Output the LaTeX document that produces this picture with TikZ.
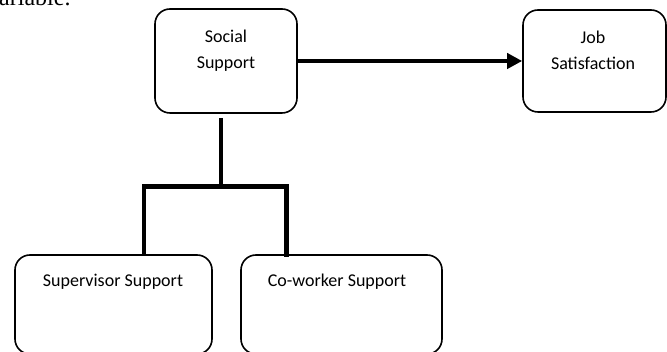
\documentclass[tikz,border=0pt]{standalone}
\usepackage{fontspec}
\setmainfont{Carlito}
\newfontfamily\serifpart{Liberation Serif}
\usetikzlibrary{arrows.meta}
\begin{document}
\begin{tikzpicture}[x=1pt,y=1pt,
  boxnode/.style={draw=black, line width=1.6pt, rounded corners=15pt, inner sep=0pt},
  lbl/.style={inner sep=0pt, font=\fontsize{18}{26}\selectfont, anchor=base},
  conn/.style={line width=4.5pt, line join=miter, line cap=butt},
  arr/.style={line width=4.5pt, -{Triangle[length=15pt,width=15pt]}}]
\useasboundingbox (0,0) rectangle (667,352);
\clip (0,0) rectangle (667,352);
% cut-off body text
\node[inner sep=0pt, anchor=base west, font=\serifpart\fontsize{24}{28}\selectfont] (frag) at (-1,346) {ariable.};
% boxes
\node[boxnode, minimum width=142pt, minimum height=104pt] (ss) at (226,291) {};
\node[boxnode, minimum width=143pt, minimum height=102pt] (js) at (594.5,291) {};
\node[boxnode, minimum width=197pt, minimum height=99pt] (sv) at (113.5,47.5) {};
\node[boxnode, minimum width=201pt, minimum height=99pt] (cw) at (341.5,47.5) {};
% labels
\node[lbl] (ssa) at (226,309) {Social};
\node[lbl] (ssb) at (226,283) {Support};
\node[lbl] (jsa) at (593,308) {Job};
\node[lbl] (jsb) at (593,282.5) {Satisfaction};
\node[lbl] (sva) at (113,65) {Supervisor Support};
\node[lbl] (cwa) at (337,65) {Co-worker Support};
% connectors
\coordinate (j) at (221,165.5);
\draw[arr] (ss.east) -- (js.west);
\draw[conn] ([xshift=-5pt,yshift=-4pt]ss.south) -- ([yshift=-2pt]j);
\draw[conn] ([xshift=30.5pt,yshift=-1pt]sv.north) |- (j) -| ([xshift=-54.8pt,yshift=-3pt]cw.north);
\end{tikzpicture}
\end{document}
